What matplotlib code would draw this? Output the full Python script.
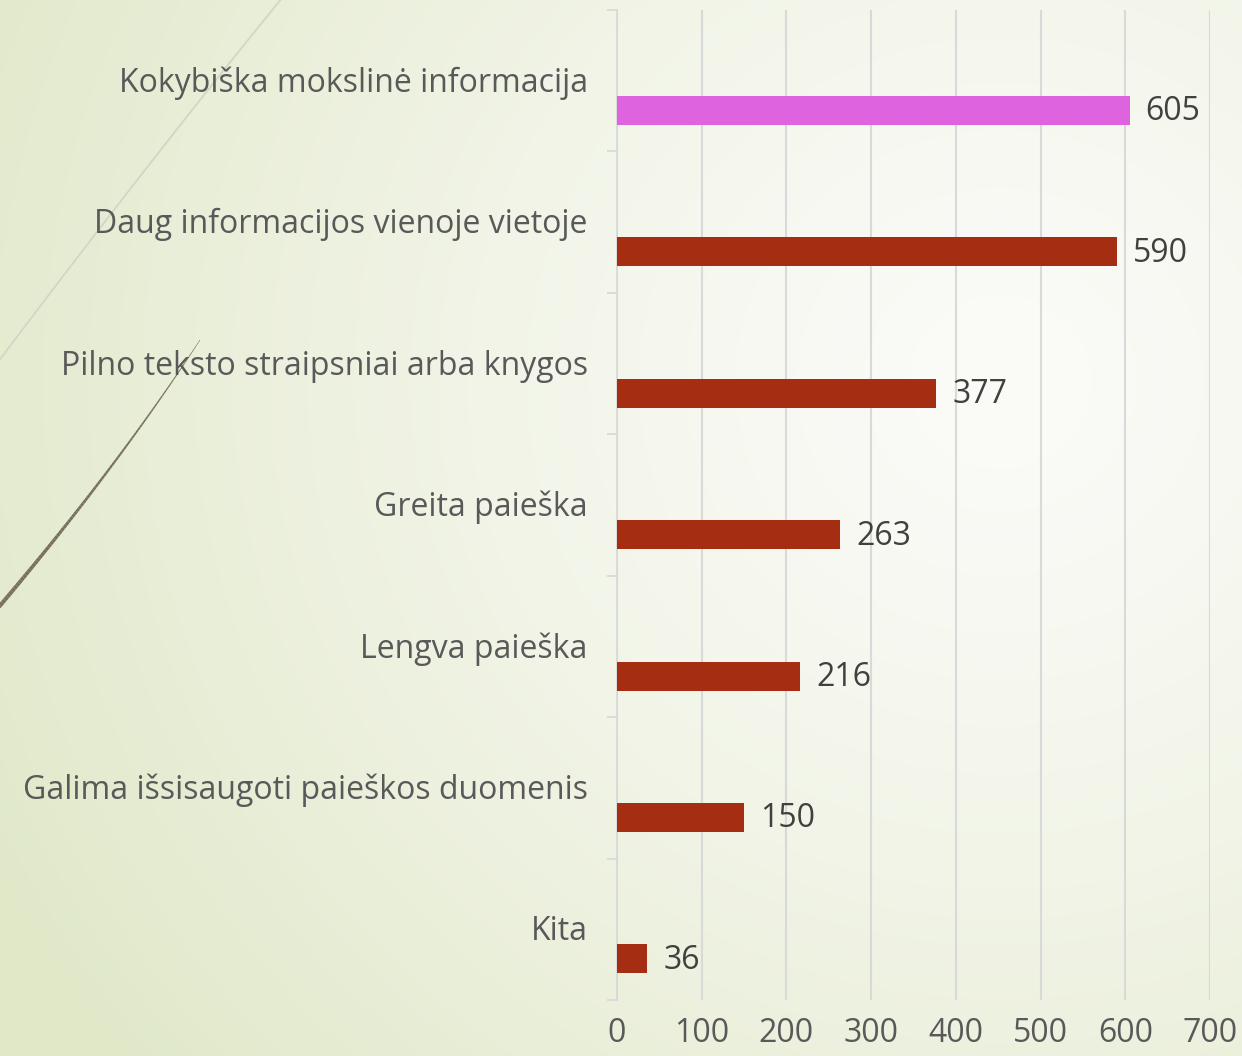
import numpy as np
import matplotlib
matplotlib.use('Agg')
import matplotlib.pyplot as plt
from matplotlib.collections import LineCollection

# Duomenys
kategorijos = ['Kokybiška mokslinė informacija',
               'Daug informacijos vienoje vietoje',
               'Pilno teksto straipsniai arba knygos',
               'Greita paieška',
               'Lengva paieška',
               'Galima išsisaugoti paieškos duomenis',
               'Kita']
reiksmes = [605, 590, 377, 263, 216, 150, 36]
spalvos = ['#DE63DE', '#A52E12', '#A52E12', '#A52E12', '#A52E12', '#A52E12', '#A52E12']
x_zymes = [0, 100, 200, 300, 400, 500, 600, 700]

plt.rcParams['font.family'] = ['Open Sans', 'DejaVu Sans']
FS = 23

W, H = 1242, 1056
fig = plt.figure(figsize=(W / 100, H / 100), dpi=100)

# Fonas su gradientu
ax_bg = fig.add_axes([0, 0, 1, 1], zorder=0)
yy, xx = np.mgrid[0:H:4, 0:W:4]
d = np.sqrt((xx - 1000) ** 2 + ((yy - 380) * 1.05) ** 2) / 1150
d = np.clip(d, 0, 1) ** 1.3
c_centras = np.array([251, 251, 248]) / 255
c_krastas = np.array([224, 232, 200]) / 255
img = c_centras + (c_krastas - c_centras) * d[..., None]
ax_bg.imshow(img, extent=(0, W, H, 0), aspect='auto', interpolation='bilinear')
ax_bg.set_xlim(0, W)
ax_bg.set_ylim(H, 0)
ax_bg.axis('off')

# Dekoratyvinės linijos
def bezier(p0, c, p2, n=100):
    t = np.linspace(0, 1, n)[:, None]
    return (1 - t) ** 2 * np.array(p0) + 2 * (1 - t) * t * np.array(c) + t ** 2 * np.array(p2)

sv = bezier((282, -2), (150, 160), (-2, 362))
ax_bg.plot(sv[:, 0], sv[:, 1], color='#D3D6C4', lw=1.3)
tams = bezier((200, 340), (115, 470), (-2, 608))
segs = np.stack([tams[:-1], tams[1:]], axis=1)
lc = LineCollection(segs, colors='#77705A', linewidths=np.linspace(0.4, 3.0, len(segs)))
ax_bg.add_collection(lc)

# Pagrindinė diagrama
ax = fig.add_axes([617 / W, 1 - 1000 / H, (1210 - 617) / W, 990 / H], zorder=1)
ax.set_facecolor('none')
y = np.arange(len(kategorijos))
ax.barh(y + 0.21, reiksmes, height=0.205, color=spalvos, zorder=3)
for yi, v in zip(y, reiksmes):
    ax.text(v + 19, yi + 0.22, str(v), va='center', ha='left',
            fontsize=FS, color='#404040', zorder=4)

ax.set_xlim(0, 700)
ax.set_ylim(len(kategorijos) - 0.5, -0.5)
ax.set_xticks(x_zymes)
ax.set_xticklabels([str(v) for v in x_zymes], fontsize=FS, color='#595959')
ax.tick_params(axis='x', length=0, pad=12)
ax.grid(axis='x', color='#D9D9D9', lw=1.5, zorder=0)

ax.set_yticks(np.arange(-0.5, len(kategorijos)), minor=False)
ax.set_yticklabels([])
ax.tick_params(axis='y', which='major', length=7, color='#D9D9D9', width=1.3)
ax.set_yticks(y - 0.01, minor=True)
ax.set_yticklabels(kategorijos, minor=True, fontsize=FS, color='#595959')
ax.tick_params(axis='y', which='minor', length=0, pad=21)

for s in ['top', 'right', 'bottom']:
    ax.spines[s].set_visible(False)
ax.spines['left'].set_color('#D9D9D9')
ax.spines['left'].set_linewidth(1.3)

fig.savefig('out.png', dpi=100)
